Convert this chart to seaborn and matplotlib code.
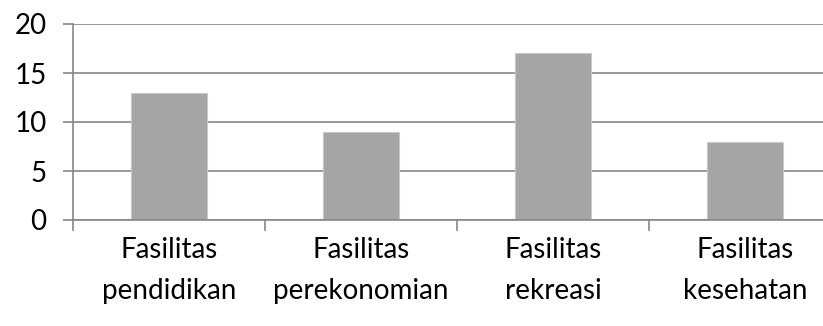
import matplotlib
matplotlib.use("Agg")
import matplotlib.pyplot as plt
import seaborn as sns
import pandas as pd
from matplotlib.ticker import FixedLocator

categories = ["Fasilitas\npendidikan", "Fasilitas\nperekonomian", "Fasilitas\nrekreasi", "Fasilitas\nkesehatan"]
values = [13, 9, 17, 8]
y_ticks = [0, 5, 10, 15, 20]

sns.set_style("white")
plt.rcParams["font.family"] = ["Lato", "DejaVu Sans"]

df = pd.DataFrame({"kategori": categories, "jumlah": values})

fig = plt.figure(figsize=(8.23, 3.26), dpi=100)
ax = fig.add_axes([73 / 823, 106 / 326, 768 / 823, 196 / 326])

grid_c = "#868686"
sns.barplot(data=df, x="kategori", y="jumlah", color="#a5a5a5", width=0.4,
            edgecolor="#c8c8c8", linewidth=0.8, saturation=1, ax=ax, zorder=3)

ax.set_xlim(-0.5, 3.5)
ax.set_ylim(0, 20)
ax.set_yticks(y_ticks)
ax.yaxis.grid(True, color=grid_c, linewidth=1.2)
ax.set_axisbelow(True)
ax.set_xlabel("")
ax.set_ylabel("")

for side in ["top", "right", "bottom"]:
    ax.spines[side].set_visible(False)
ax.spines["left"].set_color(grid_c)
ax.spines["left"].set_linewidth(1.2)
ax.axhline(0, color=grid_c, linewidth=1.2, zorder=4, clip_on=False)

ax.tick_params(axis="y", which="major", length=7, width=1.2, color=grid_c,
               labelsize=20, pad=12, labelcolor="#000000", left=True)
ax.tick_params(axis="x", which="major", length=0, labelsize=20, pad=12,
               labelcolor="#000000")
ax.xaxis.set_minor_locator(FixedLocator([-0.5, 0.5, 1.5, 2.5, 3.5]))
ax.tick_params(axis="x", which="minor", length=8, width=1.2, color=grid_c, bottom=True)
for lbl in ax.get_xticklabels():
    lbl.set_linespacing(1.75)

fig.savefig("out.png", dpi=100)
